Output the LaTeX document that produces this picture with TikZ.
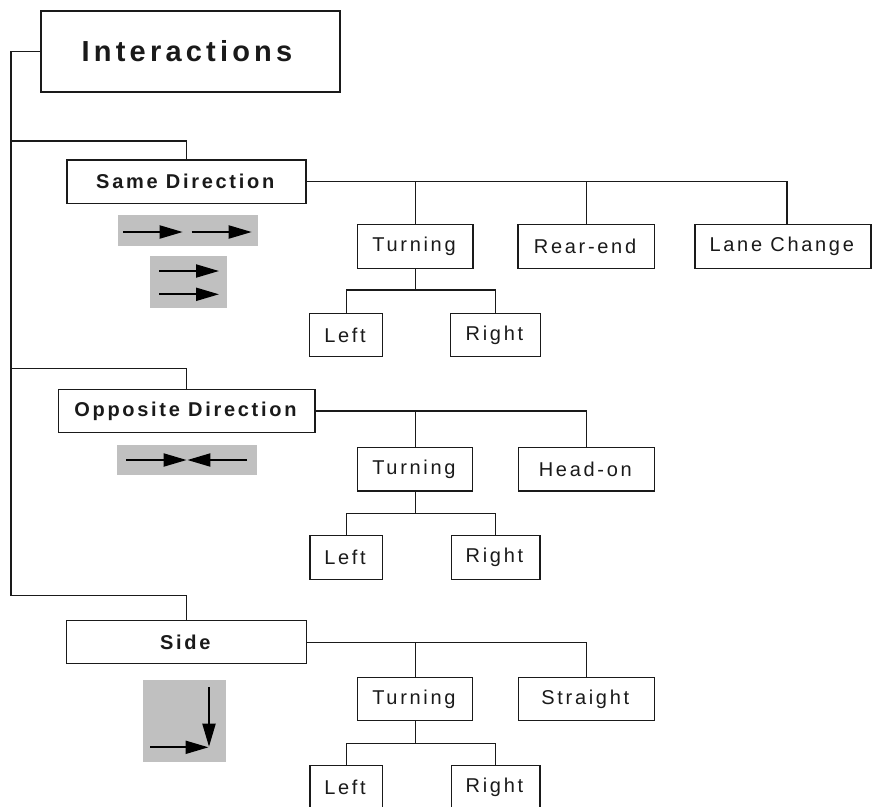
\documentclass[tikz,border=0pt]{standalone}
\usepackage{fontspec}
\setmainfont{Liberation Sans}
\newfontfamily\lblfont[LetterSpace=13.5]{Liberation Sans}
\newfontfamily\titlefont[LetterSpace=14.5]{Liberation Sans}
\usetikzlibrary{arrows.meta,calc}
\definecolor{icongray}{HTML}{C0C0C0}
\definecolor{ink}{HTML}{1A1A1A}
\tikzset{
  box/.style={draw=ink, line width=1.2pt, fill=white, inner sep=0pt, text=ink,
    font=\lblfont\fontsize{20}{24}\selectfont, execute at end node={\kern2.5pt}},
  hbox/.style={box, font=\lblfont\bfseries\fontsize{20}{24}\selectfont},
  titlebox/.style={draw=ink, line width=1.2pt, fill=white, inner sep=0pt, text=ink,
    font=\titlefont\bfseries\fontsize{29}{34}\selectfont, execute at end node={\kern7pt}},
  conn/.style={draw=ink, line width=1.2pt},
  spine/.style={draw=ink, line width=1.5pt},
  iconbg/.style={fill=icongray},
  arr/.style={draw=black, line width=2pt, -{Triangle[length=23pt,width=13pt]}},
}
\begin{document}
\begin{tikzpicture}[x=1pt,y=-1pt]
\useasboundingbox (0,0) rectangle (872,806);

% main nodes
\node[titlebox, minimum width=299pt, minimum height=81pt] (inter) at (190.5,51.5) {Interactions};
\node[hbox, minimum width=239pt, minimum height=43.3pt] (sd) at (186.5,181.7) {Same Direction};
\node[hbox, minimum width=256.7pt, minimum height=43.4pt] (od) at (186.7,411) {Opposite Direction};
\node[hbox, minimum width=239.5pt, minimum height=43pt] (side) at (186.5,642.2) {Side};

% group 1
\node[box, minimum width=115.4pt, minimum height=44pt] (t1) at (415.3,246.3) {Turning};
\node[box, minimum width=136.5pt, minimum height=44pt] (re) at (586.3,246.3) {Rear-end};
\node[box, minimum width=176pt, minimum height=44pt] (lc) at (783,246.3) {Lane Change};
\node[box, minimum width=73pt, minimum height=43.4pt] (l1) at (346.3,335) {Left};
\node[box, minimum width=90pt, minimum height=43.4pt] (r1) at (495.7,335) {Right};

% group 2
\node[box, minimum width=115pt, minimum height=43.3pt] (t2) at (415.2,469.3) {Turning};
\node[box, minimum width=135.6pt, minimum height=43.3pt] (ho) at (586.5,469.3) {Head-on};
\node[box, minimum width=72.7pt, minimum height=43.6pt] (l2) at (346.3,557.5) {Left};
\node[box, minimum width=88.7pt, minimum height=43.6pt] (r2) at (495.7,557.5) {Right};

% group 3
\node[box, minimum width=115pt, minimum height=43.4pt] (t3) at (415.2,699) {Turning};
\node[box, minimum width=135.6pt, minimum height=43.4pt] (st) at (586.5,699) {Straight};
\node[box, minimum width=72.7pt, minimum height=43.5pt] (l3) at (346.3,787) {Left};
\node[box, minimum width=88.7pt, minimum height=43.5pt] (r3) at (495.7,787) {Right};

% spine and branches
\coordinate (b1) at (11,141);
\coordinate (b2) at (11,368.3);
\coordinate (b3) at (11,595.7);
\draw[spine] (inter.west) -| (b3);
\draw[conn] (b1) -| (sd.north);
\draw[conn] (b2) -| (od.north);
\draw[conn] (b3) -| (side.north);

% group 1 connectors
\draw[conn] (sd.east) -| ($(lc.north)+(4,0)$);
\draw[conn] (t1.north) -- (t1.north |- sd.east);
\draw[conn] (re.north) -- (re.north |- sd.east);
\coordinate (j1) at (415.3,290);
\draw[conn] (t1.south) -- (j1);
\draw[conn] (l1.north) |- (j1) -| (r1.north);

% group 2 connectors
\draw[conn] (od.east) -| (ho.north);
\draw[conn] (t2.north) -- (t2.north |- od.east);
\coordinate (j2) at (415.2,513.3);
\draw[conn] (t2.south) -- (j2);
\draw[conn] (l2.north) |- (j2) -| (r2.north);

% group 3 connectors
\draw[conn] (side.east) -| (st.north);
\draw[conn] (t3.north) -- (t3.north |- side.east);
\coordinate (j3) at (415.2,743.3);
\draw[conn] (t3.south) -- (j3);
\draw[conn] (l3.north) |- (j3) -| (r3.north);

% icons: same direction (in line)
\fill[iconbg] (117.7,215) rectangle (257.7,245.7);
\draw[arr] (123,232) -- (182.7,232);
\draw[arr] (191.7,232) -- (251.7,232);
% icons: same direction (side by side)
\fill[iconbg] (150,256) rectangle (227.3,308.3);
\draw[arr] (159,271) -- (219,271);
\draw[arr] (159,294.3) -- (219,294.3);
% icon: opposite direction
\fill[iconbg] (116.7,445) rectangle (256.7,475);
\draw[arr] (126,460) -- (186.6,460);
\draw[arr] (247,460) -- (187.4,460);
% icon: side
\fill[iconbg] (143.3,680) rectangle (225.7,761.7);
\draw[arr] (150,747.3) -- (208.5,747.3);
\draw[arr] (209,687.3) -- (209,746.7);
\end{tikzpicture}
\end{document}
